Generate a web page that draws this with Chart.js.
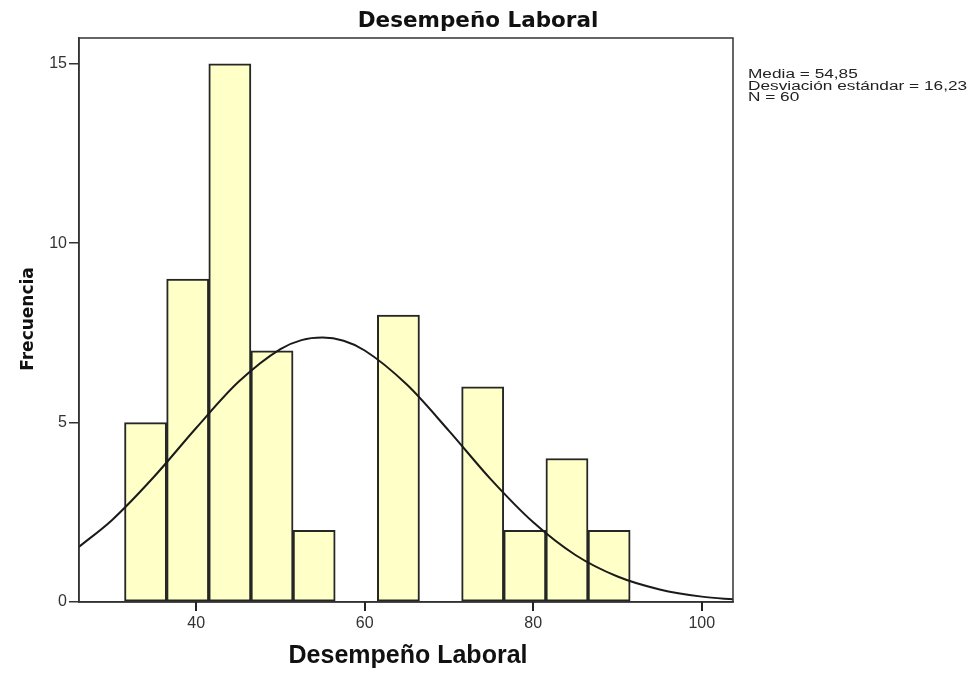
<!DOCTYPE html>
<html>
<head>
<meta charset="utf-8">
<script src="https://cdn.jsdelivr.net/npm/chart.js@4"></script>
<style>
  html, body { margin: 0; padding: 0; background: #fff; }
  canvas { display: block; }
</style>
</head>
<body>
<canvas id="hist" width="974" height="675"></canvas>
<script>
// histogram bins (centre of each 5-wide bin) and counts
const binCenters = [34, 39, 44, 49, 54, 59, 64, 69, 74, 79, 84, 89];
const counts = [5, 9, 15, 7, 2, 0, 8, 0, 6, 2, 4, 2];

// normal curve
const curveX = [26, 30, 35, 40, 45, 50, 52.5, 55, 57.5, 60, 65, 70, 75, 80, 85, 90, 95, 100, 104];
const curveY = [1.52, 2.28, 3.49, 4.85, 6.13, 7.05, 7.30, 7.37, 7.28, 7.01, 6.06, 4.77, 3.41, 2.22, 1.31, 0.71, 0.35, 0.15, 0.07];

const xTicks = [40, 60, 80, 100];
const yTicks = [0, 5, 10, 15];

const stats = ['Media = 54,85', 'Desviación estándar = 16,23', 'N = 60'];
const title = 'Desempeño Laboral';
const xTitle = 'Desempeño Laboral';
const yTitle = 'Frecuencia';

const frame = {
  id: 'frame',
  afterDraw(chart) {
    const { ctx, chartArea: a } = chart;
    const xs = chart.scales.x;
    ctx.save();
    ctx.strokeStyle = '#333';
    ctx.lineWidth = 1.5;
    ctx.strokeRect(a.left, a.top, a.right - a.left, a.bottom - a.top);

    // x tick marks
    ctx.lineWidth = 2;
    ctx.strokeStyle = '#222';
    xTicks.forEach(v => {
      const px = Math.round(xs.getPixelForValue(v));
      ctx.beginPath();
      ctx.moveTo(px, a.bottom);
      ctx.lineTo(px, a.bottom + 9);
      ctx.stroke();
    });

    ctx.fillStyle = '#111';
    ctx.textAlign = 'center';
    ctx.textBaseline = 'alphabetic';
    ctx.font = 'bold 21.5px "DejaVu Sans"';
    ctx.fillText(title, 478, 26.5);

    ctx.font = 'bold 25px "Liberation Sans"';
    ctx.fillText(xTitle, 408, 663);

    ctx.save();
    ctx.translate(32.5, 319);
    ctx.rotate(-Math.PI / 2);
    ctx.font = 'bold 17px "DejaVu Sans"';
    ctx.fillText(yTitle, 0, 0);
    ctx.restore();

    ctx.textAlign = 'left';
    ctx.font = '12.5px "Liberation Sans"';
    ctx.fillStyle = '#222';
    stats.forEach((s, i) => {
      ctx.save();
      ctx.translate(748, 78 + i * 11.5);
      ctx.scale(1.38, 1);
      ctx.fillText(s, 0, 0);
      ctx.restore();
    });
    ctx.restore();
  }
};

new Chart(document.getElementById('hist'), {
  type: 'bar',
  data: {
    datasets: [
      {
        type: 'line',
        data: curveX.map((x, i) => ({ x, y: curveY[i] })),
        borderColor: '#1a1a1a',
        borderWidth: 2,
        pointRadius: 0,
        cubicInterpolationMode: 'monotone',
        fill: false,
        order: 0
      },
      {
        type: 'bar',
        data: binCenters.map((x, i) => ({ x, y: counts[i] })),
        backgroundColor: '#ffffc8',
        borderColor: '#262626',
        borderWidth: 2,
        borderSkipped: false,
        barPercentage: 1,
        categoryPercentage: 1,
        order: 1
      }
    ]
  },
  options: {
    responsive: false,
    animation: false,
    layout: { padding: { left: 0, right: 241, top: 38, bottom: 0 } },
    plugins: { legend: { display: false }, tooltip: { enabled: false }, title: { display: false } },
    scales: {
      x: {
        type: 'linear',
        min: 26.1,
        max: 103.7,
        offset: false,
        afterFit(scale) { scale.height = 73; },
        afterBuildTicks(scale) { scale.ticks = xTicks.map(v => ({ value: v })); },
        grid: { display: false },
        border: { display: true, color: '#333', width: 1.5 },
        ticks: { padding: 4, color: '#333', font: { family: 'Liberation Sans', size: 16 }, maxRotation: 0 }
      },
      y: {
        min: 0,
        max: 15.72,
        afterFit(scale) { scale.width = 79; },
        afterBuildTicks(scale) { scale.ticks = yTicks.map(v => ({ value: v })); },
        grid: { display: true, drawOnChartArea: false, drawTicks: true, tickLength: 10, color: '#333', lineWidth: 1.5 },
        border: { display: true, color: '#333', width: 1.5 },
        ticks: { padding: 2, color: '#333', font: { family: 'Liberation Sans', size: 16 } }
      }
    }
  },
  plugins: [frame]
});
</script>
</body>
</html>
